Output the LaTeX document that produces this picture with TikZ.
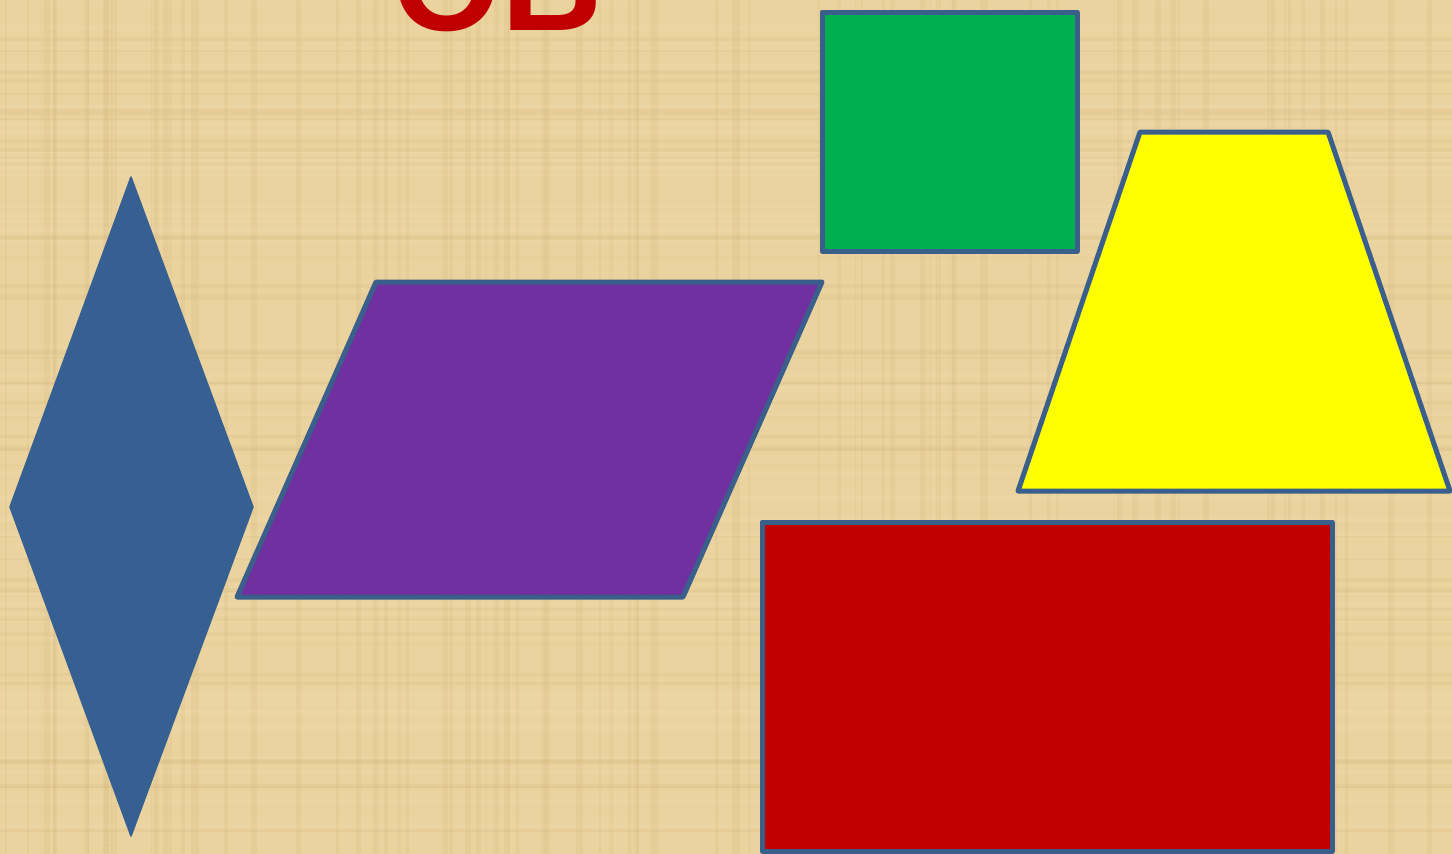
\documentclass[tikz,border=0pt]{standalone}
\usepackage{fontspec}
\setmainfont{Liberation Sans}
\definecolor{paper}{HTML}{EAD39F}
\definecolor{paperdark}{HTML}{CFAE6E}
\definecolor{paperlight}{HTML}{F3E2B6}
\definecolor{edgeblue}{HTML}{3A5F8B}
\definecolor{rhombblue}{HTML}{376092}
\definecolor{shapepurple}{HTML}{7030A0}
\definecolor{shapegreen}{HTML}{00B050}
\definecolor{shapeyellow}{HTML}{FFFF00}
\definecolor{shapered}{HTML}{C00000}
\tikzset{
  shapeedge/.style={draw=edgeblue, line width=5pt, line join=round},
  fibre/.style={line width=#1, opacity=0.14},
}
\begin{document}
\begin{tikzpicture}[x=1pt,y=-1pt]
\useasboundingbox (0,0) rectangle (1452,854);
\clip (0,0) rectangle (1452,854);
\fill[paper] (0,0) rectangle (1452,854);
% papyrus texture
\pgfmathsetseed{7}
\foreach \i in {1,...,90}{
  \pgfmathsetmacro{\xx}{rnd*1452}
  \pgfmathsetmacro{\ww}{1+rnd*5}
  \draw[paperdark,fibre=\ww pt] (\xx,0) -- (\xx,854);
}
\foreach \i in {1,...,60}{
  \pgfmathsetmacro{\yy}{rnd*854}
  \pgfmathsetmacro{\ww}{1+rnd*4}
  \draw[paperlight,fibre=\ww pt] (0,\yy) -- (1452,\yy);
}
\foreach \i in {1,...,50}{
  \pgfmathsetmacro{\yy}{rnd*854}
  \pgfmathsetmacro{\ww}{1+rnd*3}
  \draw[paperdark,fibre=\ww pt] (0,\yy) -- (1452,\yy);
}
% title (cut off at top, as in the reference)
\node[anchor=base west, inner sep=0pt, text=shapered, font=\fontsize{140}{140}\selectfont\bfseries] (title) at (392,30) {ОВ};
% rhombus
\path[fill=rhombblue, draw=rhombblue, line width=1.5pt, line join=round]
  (131,177) coordinate (rt) -- (253,507) coordinate (rr) -- (131,836) coordinate (rb) -- (10,507) coordinate (rl) -- cycle;
% parallelogram
\path[shapeedge, fill=shapepurple] (376,282) coordinate (pa) -- (822,282) coordinate (pb) -- (683,597) coordinate (pc) -- (237,597) coordinate (pd) -- cycle;
% green rectangle
\path[shapeedge, fill=shapegreen] (822,12) coordinate (ga) rectangle (1077,251) coordinate (gb);
% yellow trapezoid
\path[shapeedge, fill=shapeyellow] (1140,132) coordinate (ya) -- (1328,132) coordinate (yb) -- (1450,491) coordinate (yc) -- (1018,491) coordinate (yd) -- cycle;
% red rectangle
\path[shapeedge, fill=shapered] (762,522) coordinate (ra) rectangle (1332,851) coordinate (rb2);
\end{tikzpicture}
\end{document}
